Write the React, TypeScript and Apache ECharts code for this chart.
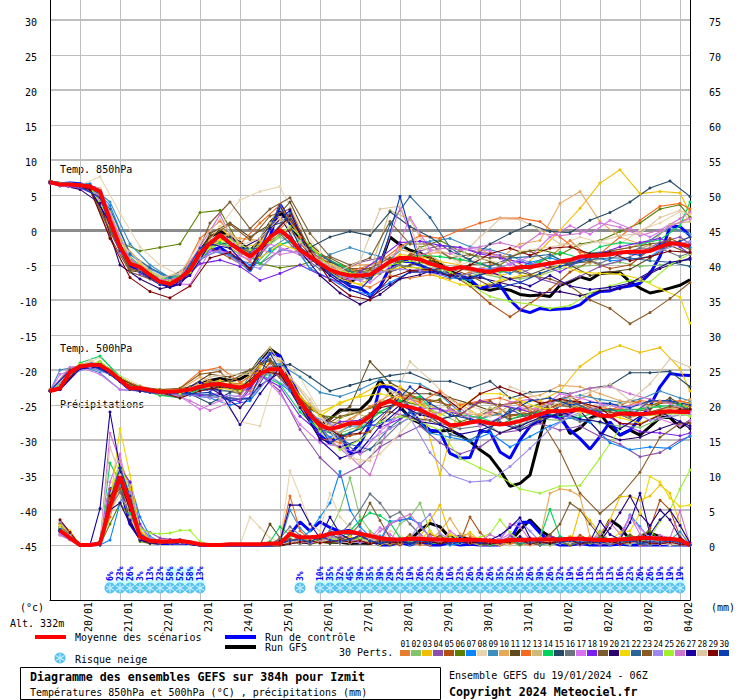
import React, { useEffect, useRef } from "react";
import * as echarts from "echarts";

const tickDates = ["20/01","21/01","22/01","23/01","24/01","25/01","26/01","27/01","28/01","29/01","30/01","31/01","01/02","02/02","03/02","04/02"];
const memberColors = ["#E67E30","#82C46C","#F0C000","#8B4FAB","#B05010","#5B8000","#0A84FF","#E8D5B0","#3A8FBF","#E8A85A","#614B1E","#F56A1F","#CDBB77","#00D45A","#254A66","#6B7580","#D873F0","#7A1FEF","#7A5C2E","#2C006E","#F0D800","#2A6496","#8B5A24","#9C88EE","#A0F030","#CF75D0","#1A009C","#DEC8A4","#800000","#0A3CB4"];
const leftTicks = [30,25,20,15,10,5,0,-5,-10,-15,-20,-25,-30,-35,-40,-45];
const rightTicks = [75,70,65,60,55,50,45,40,35,30,25,20,15,10,5,0];

const snowPercents = [null,null,null,null,null,null,6,23,26,3,13,23,58,52,58,13,null,null,null,null,null,null,null,null,null,3,null,10,35,32,45,39,35,39,29,23,19,26,23,29,16,23,26,29,26,35,32,35,26,39,26,32,19,16,13,13,13,16,23,26,26,19,19,19,null];

// 6-hourly readings, runs
const t850Mean = [6.8,6.5,6.5,6.4,6.2,5.5,1.4,-2.4,-4.8,-5.3,-6.4,-7.4,-7.7,-6.9,-5.7,-3.3,-1.9,-0.7,-1.9,-2.9,-3.8,-2.6,-1,0,-1.2,-2.9,-3.8,-4.8,-5.7,-6.2,-6.5,-6.5,-6.4,-5.5,-4.5,-4,-4,-4.2,-4.8,-5.2,-5.6,-5.3,-5.5,-5.8,-6,-5.6,-5.6,-5.3,-5.3,-5,-4.8,-4.5,-4.3,-3.8,-3.7,-3.6,-3.5,-3.2,-3.1,-3.1,-3,-2.4,-1.9,-2,-2.3];
const t850Control = [6.9,6.6,6.7,6.6,6.2,5.8,1,-2.8,-5.2,-5.6,-5.7,-7.6,-8.1,-7.5,-6,-4,-3,-2.5,-3.5,-4.3,-5.8,-3.5,-1,3.7,1.2,-0.5,-2.9,-4.8,-6,-7,-8,-8.3,-9.3,-8.1,-5.3,-4.5,-4.5,-5,-5.7,-6,-6.4,-6.4,-7.1,-8.3,-8,-7.9,-10,-11.4,-11.8,-11.2,-11.4,-11.3,-11.2,-10.7,-9.5,-8.8,-8.7,-8.2,-8,-7.6,-6.2,-3.8,0.5,0.5,-0.8];
const t850Gfs = [6.9,6.5,6.6,6.4,6.1,5.3,1.1,-2.6,-5,-5.5,-6.3,-7.6,-8,-7,-5.5,-3,-1,-0.2,-1,-1.8,-3,-1.5,1,2.6,1,-1.5,-3,-5,-6,-7,-7.5,-6.5,-7,-5,-1,-2.1,-2.9,-3.3,-4,-4.8,-5.9,-6.4,-7.4,-8.3,-8.6,-8.3,-8.6,-9.2,-9.4,-9.3,-9.5,-7.9,-7.4,-6.7,-7.1,-6.2,-6.1,-6.1,-7.4,-8.3,-9,-8.7,-8.3,-7.9,-7.1];
const t500Mean = [-23,-22.6,-20.3,-19.5,-19.3,-19.3,-20.2,-21.4,-22.6,-22.6,-22.9,-23.1,-23.1,-23,-22.8,-22.4,-22.1,-22,-22.3,-22.5,-22.1,-20.5,-19.9,-19.9,-22,-24.5,-26.4,-27.9,-28.4,-28.1,-27.6,-27.6,-26.6,-25,-24.4,-25,-25.3,-25.7,-26.4,-27,-27.9,-27.8,-27.5,-27.3,-27.6,-27.8,-27.6,-27.3,-26.8,-26.3,-25.9,-25.9,-25.8,-25.6,-26,-26.5,-26.6,-26.2,-26.3,-26.3,-26.2,-26,-25.9,-26,-26];
const t500Control = [-23,-22.5,-20.4,-19.4,-19.1,-19.2,-20.4,-21.6,-22.8,-22.8,-23,-23.3,-23.2,-23.3,-23,-22.6,-22.8,-22.4,-22.5,-22.8,-22.6,-19,-17.6,-18,-21,-24,-27,-29.3,-30.5,-29,-32,-30.5,-27.9,-22.4,-22.4,-23.3,-25.7,-27.4,-28.6,-28.8,-31.9,-32.6,-32.5,-28.8,-28.8,-31.7,-32.6,-30,-28.1,-26.9,-26.4,-26.9,-28.6,-29.8,-31.3,-29.5,-27.4,-29.3,-28.6,-26.9,-25.2,-22.4,-20.5,-20.7,-20.8];
const t500Gfs = [-23,-22.7,-20.2,-19.6,-19.2,-19.2,-20,-21.3,-22.5,-22.7,-23,-23.2,-23.2,-23,-22.6,-22,-21.5,-21.2,-21.5,-21.3,-20.5,-18.5,-17,-18,-21.5,-24.2,-26.5,-27.9,-27,-25.7,-25.7,-25.7,-24.3,-21.4,-23.3,-25.2,-26.9,-27.6,-28.8,-28.7,-28.6,-29.3,-30.2,-31.4,-32.4,-34.3,-36.6,-36.2,-35,-29.5,-24.5,-26.2,-29.1,-28.3,-26.9,-26.2,-28.1,-29.3,-28.6,-29.3,-28.1,-26.8,-26.8,-28.2,-27.3];
const precipMean = [2.1,1,0,0,0.2,5.5,9.8,6,1.2,0.6,0.5,0.5,0.6,0.4,0.1,0,0,0.1,0.1,0.1,0.1,0.2,0.2,1.6,1.1,1.1,1.2,1.6,1.8,1.9,1.6,1.3,1,0.8,0.8,0.9,0.9,0.8,0.8,0.7,0.7,0.8,0.7,0.6,0.5,0.7,0.7,0.8,0.8,0.8,0.8,0.9,0.9,0.8,0.7,0.7,0.8,0.9,1,1,0.9,0.9,0.7,0];
const precipControl = [1.8,1.2,0,0,0.1,8,8.5,3,1,0.4,0.2,0.2,0.3,0.2,0,0,0,0,0,0,0,0,0.1,1.5,3.3,2,3.3,2.5,1.9,2.1,1.6,0.7,0,0,0.4,0,0.5,0,0,0.3,0,0.1,0,0,0,0.7,3.2,3.3,1.7,0.5,0,0,0.2,0,0,0,0.1,0,0,0,0,0,0,0];
const precipGfs = [2.3,1.3,0,0,0.3,5,10.5,7,1.5,0.4,0.3,0.4,0.4,0.2,0,0,0,0,0,0,0,0,0,0.3,0.6,0.3,0.6,0.4,0.4,0.2,0.3,0.2,0.7,0.7,0.4,0.7,2.1,3.1,2.6,1,1.2,0.8,0.5,0.3,0.4,0.5,2.1,3.6,2.1,1.2,0.7,0.3,0.7,0.7,0.9,3.6,2.6,0.7,1.2,1.7,1.2,0.3,0.2,0];

// Members: 33 readings are at the even 6-hour steps, 34 readings at steps 0 and the odd ones plus the last.
const t850m01 = [6.9,6.6,6.0,2.1,-4.2,-6.0,-7.3,-6.1,-1.5,-2.5,-4.5,-1.2,1.5,-3.5,-5.8,-7.4,-8.2,-6.5,-6.9,-6.4,-7,-6,-5,-4.2,-5.5,-3.8,-1.5,-4,-3,-2.5,-1.5,0.5,1.8];
const t850m02 = [6.8,6.5,6.3,5.6,-2,-5.6,-7.6,-7.5,-4,-1.8,-3.5,-3,-1,-2.5,-4.5,-6.5,-7,-6.2,-5,-5.5,-5.8,-7,-6.2,-6.8,-7,-6.5,-5.5,-5.2,-5,-4.6,-5.2,-5,-4.5,-4.2];
const t850m03 = [6.9,6.6,6.2,5.2,-1.5,-4.8,-7.2,-7,-3,0.5,-2.5,-2,3.5,-1,-3.5,-5.8,-6,-5.5,-3.5,-3.8,-4.5,-5,-6,-6.5,-5.8,-3,0,3.1,6.7,8.6,5.2,5.5,5.3,2.4];
const t850m04 = [6.8,6.4,6.1,5.4,-3,-6,-7.8,-7.6,-4.2,-2.8,-4.5,-4.8,-3,-2,-4,-6,-4.6,-4,-4.5,-3,-2.2,-2.5,-3.2,-3.6,-5.5,-7,-7.8,-6.6,-5.2,-4.4,-3.2,-1.8,-1,-2];
const t850m05 = [7,6.6,6.3,0.5,-5.5,-6.5,-8,-5.5,-2.5,-4,-5.6,-1.5,0,-3.6,-5.5,-7.2,-5.8,-6,-3.5,-3.8,-6.2,-8,-10.5,-12.4,-10.5,-8.5,-6,-4.5,-5.5,-5,-2.8,-1.2,-2.5];
const t850m06 = [6.8,6.5,6.2,5.6,-1.8,-3,-2.5,-2,2.5,2.8,-2.3,-4.8,-5.4,-5,-4.2,-5,-6,-5.5,-4.6,-2.5,-1.5,-3,-4,-5,-3.2,-2.8,-3.5,-2,-1.5,-0.2,1,3,3.6,1.8];
const t850m07 = [6.9,6.7,6.6,3.5,-3.5,-5.5,-7,-5.8,-3,-3.4,-5,-3,-1.5,-5.5,-7,-8.6,-9.2,-7.5,-6,-6,-6.8,-7.2,-5.5,-6.2,-4.6,-4,-4.7,-3.8,-4.4,-4.2,-3.8,-2,-2.5];
const t850m08 = [6.9,6.6,6.4,7.6,2.4,-2.4,-5,-6.5,-3.2,0.5,4.3,5.5,6.2,0.5,-3.2,-5.5,-6.2,-5.8,-2.6,-1,-2.8,-5,-4,-4.7,-3,-2.6,-2.2,-1,-1.8,-2,0,1,2.6,1.5];
const t850m09 = [6.9,6.7,6.4,4,-2,-5,-6.8,-5.7,-3,-3.6,-5.8,-2.7,-0.8,-5.6,-3.5,-2.5,-3.4,-4.2,-1.7,-1.6,-1.2,-2.4,-2.8,-3.6,-5,-3.6,-4.8,-3.3,-3,-3.4,-1.5,0.4,-0.6];
const t850m10 = [6.9,6.5,6.2,5.8,-1.5,-4.5,-7,-6,-2.8,-0.6,-1.2,-1.5,1.5,-1.8,-4.3,-5.5,-5,-4.8,-2.8,-3.5,-3.2,-4.5,-2.8,-4,-2,-1.5,3.8,5.5,1.2,-1,-2,-2.5,-1.5,-1];
const t850m11 = [6.8,6.4,5.8,-0.2,-5.8,-6.2,-7.2,-6,-0.5,1,-1,0.8,4,-2,-4.5,-6,-5.5,-6,-5,-4.4,-5.6,-5,-4.6,-5.6,-6.4,-5.3,-5,-6.5,-6,-5.6,-4,-2.2,-3.4];
const t850m12 = [6.9,6.5,6.1,5,-2.8,-5.8,-7.5,-6.8,-1.2,1.3,-2,1,3.6,-1,-3.8,-6.2,-5.5,-4.5,-2.4,-0.8,-1.2,0,1,1.7,1.7,1.2,-1,-3.2,-3.4,-1,1.4,3.4,3.8,3];
const t850m13 = [6.8,6.6,6.2,2.5,-4,-5.8,-7.2,-5.5,-1.5,-0.5,-3.2,1,1.8,-3.5,-5,-6.2,-6,2.8,1.5,-3.5,-5.5,-5.8,-6.4,-5.8,-5.2,-5.6,-4.3,-4.8,-3.4,-3,-2.2,0.8,1.2];
const t850m14 = [6.9,6.6,6.3,5.5,-2.4,-5.2,-7,-6.6,-3.4,-1.8,-2.8,-4.8,-2,-1.5,-3.6,-5,-6.6,-5.2,-4.2,-3.6,-3.8,-4.2,-4.8,-6,-5.5,-4.5,-3.2,-4,-2.4,-1.8,-2,-1.4,0.6,4];
const t850m15 = [6.8,6.5,6.0,1,-4.8,-6.5,-7.6,-6,-2,-1,-3.5,0.5,1.5,-2.5,-1,-0.2,-0.8,2.6,0.5,-1,-3,-4.2,-2,-0.5,0.8,-0.2,-0.4,1.4,2.5,4,6,7,4.8];
const t850m16 = [6.8,6.5,6.2,5.2,-2.8,-5.5,-7.4,-7,-3.8,-1,-3,-3.5,-0.5,-3.5,-5.6,-6.8,-6,-6.2,-5,-5.5,-5.4,-6.5,-6,-5.2,-6.2,-5,-4.4,-4,-4.8,-3.5,-2.6,-2.6,-3.8,-3.2];
const t850m17 = [6.6,6.2,5.9,2.2,-4.4,-6,-7.6,-7.8,-3,-3.2,-4.2,-2,-3,-4.2,-5.5,-7,-7.5,-5.2,1.8,-2.8,-3.4,-2.6,-3,-5,-3.8,-1,0.6,-0.6,1.4,0.2,-1,0.5,1.6];
const t850m18 = [6.7,6.3,6,4.8,-3.2,-6.2,-7.8,-7.4,-4.8,-4.3,-5.2,-7.2,-6.2,-5,-6.4,-7.5,-6,-4,-1.8,-1.6,-2.2,-2.5,-3.4,-4,-4.6,-5,-6,-4.4,-3.4,-2.4,-1.8,-1.2,-2.4,-3.5];
const t850m19 = [6.8,6.5,6,-1,-6,-7,-8,-6,1,4,0.2,3,4.6,-0.5,-3.8,-5,-4,1.2,-2,-2,-4,-3.5,-4,-3.8,-3,-4.6,-4.8,-4.5,-3,-2.5,-2,-1.6,-2.8];
const t850m20 = [6.8,6.4,5.8,3.8,-5,-7,-8.4,-7.8,-3.5,-0.5,-2.8,-1.2,2,-3,-6.5,-9,-10.6,-9.2,-7,-6.4,-5.4,-7,-6.8,-7.5,-8.2,-9,-8.8,-9.4,-8.7,-8.4,-7,-5.5,-4.5,-4];
const t850m21 = [6.9,6.5,6.2,5,-3,-6,-7.6,-7.2,-3.6,-1.4,-2.6,-4,-2,-3,-5,-7,-7.8,-6,-5.4,-5.4,-6.8,-7.8,-8,-7.2,-6.5,-6.4,-5,-6,-6.2,-6.3,-7,-8.4,-9.6,-13.3];
const t850m22 = [6.9,6.6,6.5,3,-3.4,-5.4,-6.8,-5,-2.2,-1.8,-3.2,-1,2.4,-2.8,-4.4,-6,-7,0.8,4.8,1.8,-2.5,-4.4,-5.2,-4,-3.8,-3.5,-5,-4.2,-4,-4,-4.4,-4.6,-5.2];
const t850m23 = [6.8,6.5,6,0,-5.5,-6.5,-7.8,-6.2,-1,0.8,-1.4,2,3,-3,-4,-5.5,-5.5,-4,-6,-5.8,-5.5,-6.5,-8,-7,-6.5,-7,-8,-10,-11.2,-13.4,-11.8,-9.8,-7.5];
const t850m24 = [6.7,6.3,6.1,5,-3.2,-6,-7.6,-7.2,-4,-3,-4.8,-5.5,-2.8,-3.2,-5,-6.5,-7.2,-6,-5.6,-5.8,-6.4,-6.8,-5.5,-5.4,-4.2,-5,-4.6,-4.2,-3.6,-3.4,-3,-3,-2,-1.6];
const t850m25 = [6.9,6.5,6.1,1.5,-4.5,-6,-7.4,-6,-2.5,-1.4,-2.8,-1.8,0.5,-2.2,-5.5,-6.2,-6.5,-5,-4.4,-5,-6,-7.8,-9.5,-10.2,-10.6,-11.2,-10.8,-9,-8,-7.2,-7.4,-5,-3.4];
const t850m26 = [6.8,6.5,6.2,5.6,-2.4,-5.4,-7.2,-6.8,-2.4,2.2,-3.5,-2.8,-3.5,-3,-4.5,-6,-6.8,-5,3.2,-3.6,-2.6,-2.8,-2.4,-1.8,-2.5,-0.5,-0.8,-0.5,1,0.4,-0.8,0,1.6,2.6];
const t850m27 = [6.8,6.4,5.8,1,-5,-6.8,-8.2,-6.5,-2,-2.6,-5.6,0.2,2.8,-4,-6.5,-8.5,-9.6,-7.8,-6,-6,-6.5,-6.8,-6,-7,-8,-6.5,-8,-8.5,-8.2,-7.6,-6,-4.6,-4.2];
const t850m28 = [6.9,6.6,6.4,6,-1.8,-4.6,-6.8,-6.2,-1.8,1.5,-2.2,-1.2,1.8,-1.6,-5,-5.8,-4.5,3,3.4,-2.6,-3,-3.8,-1,1.6,1.5,0,-2,-2.2,-1.6,-0.8,-0.5,1.8,2.8,2.2];
const t850m29 = [6.9,6.5,5.8,-1.2,-6.8,-8.8,-9.7,-8,-4,-3.2,-5.5,-1,2,-3,-7.2,-9.4,-10,-6.8,-5.8,-5.6,-6.6,-5,-3.4,-2.6,-3.6,-2.6,-2.4,-3.4,-3.2,-4.4,-3.8,-3,-3.2];
const t850m30 = [6.8,6.5,6.2,4.6,-3,-6,-7.8,-7.2,-2.6,-0.8,-2.6,-2.6,3.5,-2.4,-5,-7.2,-8.5,-5.5,4.8,-5,-6,-7,-6.5,-8.2,-7.5,-6.2,-5.2,-4.4,-3.4,-3.2,-3.6,-2,-1.6,-1];

const t500m01 = [-23,-19.8,-19.3,-20,-22.4,-22.8,-23,-22.6,-21.5,-22.4,-23,-19.8,-21.5,-26,-28.5,-27,-25.2,-24.6,-23.4,-25.8,-28,-27.4,-26.4,-26.6,-25.8,-24.4,-24.6,-23.6,-26,-26.8,-26,-25.4,-25.6];
const t500m02 = [-23,-22.4,-19.4,-19,-21.2,-22.4,-23.2,-23.2,-22.4,-22,-23,-20.8,-20.6,-25,-28,-29,-28,-26,-24.6,-25,-26.2,-27.6,-27,-29,-27.8,-27,-27.2,-26.4,-27.6,-28,-28.2,-27,-26.4,-26];
const t500m03 = [-23,-22.5,-19.2,-19.2,-21.5,-22.6,-22.8,-22.8,-22,-21.5,-22,-19.5,-18.5,-24,-26,-24.8,-23.6,-22,-22.4,-24.5,-35,-24.8,-26.6,-25,-24.6,-24.4,-23,-19.5,-17.5,-16.5,-17.5,-16.8,-19.8,-23];
const t500m04 = [-23,-22.8,-19.8,-19.4,-21.6,-23,-23.4,-23.6,-23.6,-24,-24.2,-20.6,-23,-28.5,-32.5,-35.2,-33.8,-31,-29.4,-28,-30.4,-32,-31,-29,-28.6,-27.6,-28.6,-28,-29.5,-30.6,-32.4,-31.8,-30,-29.5];
const t500m05 = [-22.8,-20.2,-19.2,-20.4,-22.8,-23.2,-23.2,-22.8,-22,-22,-22,-19,-21.6,-26.2,-29.8,-29.4,-28.8,-25.5,-23.6,-24.4,-25,-24.8,-24.4,-26.6,-26.2,-24.4,-23.8,-25.4,-25.8,-24.4,-25,-24.6,-25.2];
const t500m06 = [-23,-22.6,-19.6,-18.8,-21,-22.6,-23.6,-23.8,-22.6,-22.2,-22.8,-20.8,-19.6,-23.8,-26.5,-26.8,-26,-25,-24.4,-25,-24.2,-27.4,-26.5,-25,-25.8,-24.8,-24.4,-25.4,-26,-25.6,-25.6,-24.6,-24.8,-24.6];
const t500m07 = [-23,-20.6,-19.6,-20.6,-22.8,-23,-23.2,-23.6,-24,-25,-24.4,-20.8,-23,-27.4,-29.6,-28,-28,-27.2,-26,-29,-29.6,-30.2,-29,-31,-29.5,-28,-26.8,-27.5,-30.4,-31.4,-31,-31.2,-29.4];
const t500m08 = [-23,-22.4,-19.5,-18.2,-20.8,-22.2,-23,-22.8,-22,-24,-27.4,-28,-18.4,-21,-26,-31,-33.2,-32,-29,-26,-25.4,-24.8,-25.6,-26.4,-27.2,-26.5,-25,-26,-24.6,-25,-25.6,-26,-26.4,-26.2];
const t500m09 = [-23,-20,-19.4,-20.4,-22.8,-23,-23.4,-23.2,-22.4,-23,-23,-18.4,-19.2,-21,-23.2,-23.8,-22.8,-21.4,-21.6,-22,-23.6,-26,-27,-26.2,-28.4,-25.4,-24.2,-23.6,-24.2,-24.6,-24.2,-23,-24,-24.4];
const t500m10 = [-23,-22.6,-19.4,-19,-21.4,-22.4,-23.4,-22.8,-21,-22.2,-23.4,-20,-19.6,-24.8,-27.6,-29,-26,-24.4,-22.8,-24.8,-25.6,-26.2,-26.4,-26,-24,-23.6,-22.2,-22.4,-23.4,-24.4,-24.8,-24.4,-24.6,-24.2];
const t500m11 = [-23,-20.4,-19.4,-20.2,-22.4,-22.8,-23,-22.4,-20.6,-21,-20,-18.6,-22,-25.6,-27,-25.2,-18.8,-21.8,-23.4,-23.4,-24,-24.8,-25.8,-27,-26.4,-25,-25.2,-25.8,-25.6,-26,-25.6,-24,-25.6];
const t500m12 = [-23,-22.6,-19.6,-19.2,-21.2,-22.8,-23,-22.6,-20.2,-19.6,-21.8,-20,-19.8,-25,-29.8,-30.4,-28,-24.6,-23.8,-24.6,-23,-25,-24.4,-24,-25,-25.8,-25,-24.6,-25.4,-25.6,-24.4,-24.6,-24.4,-24.8];
const t500m13 = [-23,-20.2,-19.2,-20.4,-22.4,-22.8,-23.2,-23,-21.8,-21.6,-20.2,-16.8,-21,-24.8,-28,-26,-26.8,-23,-24,-25,-26.4,-27,-25.4,-26,-25.6,-24.8,-25,-26,-25,-24.6,-25.2,-25.6,-24.8];
const t500m14 = [-23,-22.2,-19,-18,-21,-22.8,-23.6,-24,-22.8,-22.4,-22.4,-20.6,-22,-26,-28.6,-29.4,-28.4,-26,-24.4,-23.8,-27,-26.4,-26.8,-27.8,-26.5,-26,-26.6,-26.8,-25.8,-25.8,-25.6,-25.2,-25,-25.6];
const t500m15 = [-23,-20.4,-19.4,-20.4,-22.6,-22.8,-23.2,-23.4,-24.8,-23.2,-21.6,-19.6,-19.2,-21,-23,-22.2,-21.4,-20.8,-20.4,-21.6,-21.6,-22.6,-21.6,-24,-23.2,-23,-23.4,-22.6,-22.2,-20.4,-20.4,-20.2,-22.4];
const t500m16 = [-23,-22.6,-19.6,-19.4,-21.4,-22.8,-23.2,-23.2,-22.6,-22.8,-23.4,-21,-19.8,-24.2,-28,-30,-32,-30.4,-27.6,-26,-27.6,-28.4,-28,-27.4,-28.4,-27,-26.2,-27.4,-26.6,-26.4,-27.6,-26.6,-25.8,-25.6];
const t500m17 = [-23,-20.6,-19.6,-20.6,-22.8,-23,-23.4,-23.8,-25.6,-24.4,-23.6,-20.6,-23.4,-27.8,-30.4,-31,-32,-28.8,-26.4,-27.4,-26,-25.4,-28,-26.8,-25.4,-25.6,-23.4,-24,-24.8,-25.4,-24.8,-27,-28,-27.2];
const t500m18 = [-23,-22.8,-19.8,-19.6,-21.6,-22.8,-23.4,-23.4,-23.6,-23.4,-24.6,-20.8,-22.4,-26.6,-29,-27.4,-27.2,-28.2,-27,-25.4,-25.6,-26.4,-24.4,-25,-25.6,-26.4,-27,-25.6,-26,-27.6,-28.8,-29,-29.4,-29];
const t500m19 = [-23,-20.2,-19.2,-20,-22.2,-22.8,-23,-22.8,-21.8,-21.6,-20,-18.4,-21.8,-25.4,-27.4,-28,-26.2,-26,-26.8,-27.2,-28.4,-27.4,-27.6,-26.4,-26.2,-25.2,-24.4,-25.6,-26,-26.4,-26,-25.2,-25.6];
const t500m20 = [-23,-22.6,-19.6,-19.4,-21.6,-23,-23.4,-23.2,-21.8,-23.4,-25.4,-22.2,-20.4,-25.4,-29.8,-31,-30,-27.4,-25,-26.4,-27,-26.4,-27.6,-29,-28,-26.8,-26.4,-25.8,-29,-30,-29.6,-28.4,-27.4,-28.4];
const t500m21 = [-23,-22.4,-19.2,-19,-21.4,-22.6,-22.8,-22.8,-22.4,-22.6,-23,-20,-19.8,-23.8,-26.6,-24.6,-23.8,-23.4,-24,-25,-26.4,-25.4,-23.4,-23.4,-24.4,-25.4,-25.8,-26,-26.4,-26.8,-27.6,-26.4,-25.6,-25];
const t500m22 = [-23,-20.2,-19.4,-20.2,-22.6,-23,-23.4,-23.4,-23.6,-24,-24.2,-19.6,-22.8,-26,-28.8,-30.6,-31.4,-28.2,-26,-26.4,-29.2,-30,-28.4,-25.6,-27,-26,-24.4,-25.8,-25.6,-26.6,-24.4,-24.4,-25.8];
const t500m23 = [-23,-22.6,-19.4,-19,-21.2,-22.4,-22.8,-22.6,-20.6,-20.2,-23.4,-19,-21,-24.4,-28.4,-26.6,-26,-24.8,-23.4,-24.2,-24.4,-26.4,-24.6,-25,-24.6,-27,-31.6,-37.6,-40.5,-38,-34.6,-29.6,-27.6,-27.6];
const t500m24 = [-23,-20.6,-19.6,-20.6,-22.8,-23.2,-23.4,-23.6,-24,-23.6,-24,-21,-22.6,-26.4,-27.6,-32.5,-30,-28.4,-26.8,-31.8,-35,-36,-35.8,-33.8,-31.2,-28.4,-26.6,-25.6,-24.8,-25.6,-27.2,-26.6,-26.4];
const t500m25 = [-23,-22.4,-19.4,-18.8,-21,-22.6,-23.4,-23.4,-22.2,-21.8,-22.4,-20.4,-20,-24.4,-28.8,-31.4,-30,-27.4,-26.6,-27.4,-28.6,-32.6,-34,-35.2,-37,-37.6,-36.6,-36.5,-32.6,-28.4,-26.6,-26.4,-26.2,-26.6];
const t500m26 = [-23,-19.6,-19.2,-20.2,-22.6,-22.8,-23.2,-24.4,-25.8,-24.6,-23.4,-19.6,-22.4,-26.4,-30,-32.4,-35,-27.4,-24,-26.4,-25.6,-27,-26,-24.6,-24.2,-24.8,-23.4,-22.6,-22.4,-23.4,-24.2,-24.8,-26];
const t500m27 = [-23,-22.8,-19.8,-19.6,-21.6,-23,-23.2,-23,-21.8,-23,-27.8,-23.4,-19.6,-24.6,-30,-32.6,-31.6,-28,-25.6,-27.4,-27.8,-29.2,-28.6,-27.6,-28.6,-27.4,-26,-27,-27.4,-28.4,-26.6,-26,-27.4,-28];
const t500m28 = [-23,-20.4,-18.6,-20,-22.6,-23,-23,-22.6,-21,-20.6,-20.6,-17.4,-21,-24.2,-28.6,-32.6,-33,-25.4,-18.8,-21.4,-24.2,-26,-26.6,-22.4,-23.4,-25.2,-24,-23.2,-22,-24.4,-22,-18.4,-19.6];
const t500m29 = [-23,-22.6,-19.4,-19.2,-21.2,-22.6,-23.2,-24,-23,-22.4,-22.6,-20.2,-20.6,-24.8,-27.6,-29.4,-29,-25.4,-24.8,-22.4,-23.4,-25.6,-23.4,-22.4,-23.4,-24.8,-24.2,-24.6,-25.4,-27.6,-27.8,-26.4,-25.6,-25.6];
const t500m30 = [-23,-20,-19.2,-20.6,-22.8,-23.2,-23.4,-23.4,-23.2,-24.4,-24,-17.6,-22.6,-26,-30.4,-29,-27.8,-25.4,-22.4,-24.8,-26.4,-27,-27.6,-26,-24.4,-24,-25,-24.6,-24.8,-25.4,-24.4,-24.4,-25];

const p01 = [3,1.4,0,0,0.5,6,11,7,2,0.8,0.5,0.4,0.6,0.3,0,0,0,0,0,0,0,0,0,2,1,0.5,1,0.5,0.3,1,0.8,0.2,0.5,0,1,0.3,0,0,1.2,0.5,1,0.3,0,0,0,0.4,0.2,0,0.6,0,1,0,0.4,1.2,0.8,0,0.5,1,0,0,0.3,0.2,0,0];
const p02 = [2,1,0,0,0,5,10,5,1.5,0.6,0.4,0.6,0.5,0.3,0,0,0,0,0,0,0,0,0.5,1,0.2,0.4,0.8,2,5,9.6,4,2,1,0.5,3,4,6,2,0.5,0,1,0.4,0,0.2,0.5,0,1,0.4,0,0,0.3,0.7,0,0.4,2,0.6,0.3,0,1,0.4,0.6,0,0,0];
const p03 = [3.2,2,0,0,0.2,4,12,8,2,1,0.6,0.4,0.7,0.5,0.1,0,0,0,0,0,0,0,0,0.4,0.8,0.2,0.5,1,0.3,0.8,1.2,0.5,0,0.4,0.3,0.8,1.2,3.5,5.7,1.5,1,1.8,0.6,0.3,0,0.5,1,0.3,0,1.4,0.6,0,5,3.5,1.6,3.6,6.9,7,6.4,7,8.6,7.4,3,0];
const p04 = [1.8,0.8,0,0,0.4,7,9,4,2.4,1.8,1,0.8,0.8,0.5,0.1,0,0,0,0,0,0,0,0,0.6,0.4,0.8,1,1.2,1.8,1.4,2,1,0.4,3,3.6,3.8,3,1,0.3,0.6,0.2,0.7,0.4,0,0.5,1.2,0.8,0.3,0,0.4,1,0.5,0,0.3,0,0.6,0,0.8,1,0.4,0.2,0.4,0,0];
const p05 = [2.6,1.2,0,0,0.2,8,8,3.6,1,0.3,0.3,0.4,0.5,0.2,0,0,0,0,0,0,0,0,0.2,0.5,1,0.4,0.8,0.6,1.2,1,0.7,0.4,0.8,0.3,0,0.7,0.2,1.5,1,0.6,0.4,4,1.8,0.4,0,0.2,0.8,0.3,0,0.6,0.9,0.2,1.4,0.7,0.3,0,0.5,1.3,0.6,2.4,6.4,5,1.2,0];
const p06 = [2,1,0,0,0,3,6,4,0.5,0.2,0.2,0.3,0.3,0.2,0,0,0,0,0,0,0,0,0,0.3,0.4,0.1,0.4,0.2,0.6,0.3,0.8,0.2,0.4,0,0.5,0.2,0.3,0.8,0.2,1.3,0.4,0.7,0.2,0,0.3,0.4,0,0.6,0.2,0.8,0.3,0,0.4,0.2,1.2,0.8,0.3,0.6,1.4,2,0.7,0.5,0.2,0];
const p07 = [1.5,0.8,0,0,0,0.7,6,9,4,1.2,0.5,0.4,0.5,0.2,0,0,0,0,0,0,0,0,0,0.2,0.8,2,4,6,10.5,5,2.6,1.2,0.6,3.4,3.5,3.8,3,1,0.5,0,0.2,0.6,0.3,0,0.7,0.4,1,0.6,0.3,0.5,1.2,0.3,0.8,0.2,0.5,0,1,4.3,2.6,0.8,0.3,0.5,0.2,0];
const p08 = [2.4,1.4,0,0,0.4,5,7,5,1,0.4,0.3,0.3,0.4,0.2,0,0,0,0,0,4,2.5,1,0.4,10.6,7,3,2,7.4,4,2.5,1.5,0.8,0.5,2,1.5,0.3,1,0.8,0.6,1.8,0.4,0.7,0.2,0.5,0.3,0,0.5,0.8,1,0.6,0.2,0.5,0.4,0.8,0.2,0.6,0.4,0.2,0.8,0.3,0.1,0,0.2,0];
const p09 = [2,1,0,0,0.2,6,8.5,6,1.4,0.6,0.4,0.5,0.4,0.2,0,0,0,0,0,0,0,0,0.3,5,2.4,1,1.4,1,2,1.6,1.4,0.6,1.3,0.5,0.7,0,0.4,0.8,0.3,0.5,1.2,0.5,0.3,0,0.6,0.4,0.2,0.7,0,0.3,1,0.4,0.2,0.6,0.2,0.4,0.8,1.2,0.3,0,0.5,0.7,1.9,0];
const p10 = [2.8,1.6,0,0,0.1,6.5,12,8.5,2,0.8,0.6,0.4,0.5,0.3,0,0,0,0,0,0,0,0,0,0.6,1.2,0.6,0.3,0.8,1,0.5,0.6,0.4,1,0.5,0.3,0.7,1,0.5,2,3.8,1.6,1.4,0.6,0.2,0,0.4,1,0.7,1,7.4,8,7.8,7,1.2,0.8,0.3,0.5,1.5,0.7,0.3,1,0.8,0.3,0];
const p11 = [2.2,1,0,0,0.3,7,10,5,1,0.4,0.4,0.4,0.4,0.3,0,0,0,0,0,0,0,3,1,0.8,0.2,0.3,0.5,1,0.6,0.8,0.4,0.3,0.7,0.8,0.4,1,0.2,0.6,1.4,0.3,0.5,0.8,0.2,0,0.4,0.6,0.2,0.5,1,0.3,0.4,0.2,0.7,0.3,0.6,0.4,0.8,0.2,1.2,0.3,0.5,0.2,0.4,0];
const p12 = [3,1.2,0,0,0.2,4,9,6.6,1.8,0.8,0.5,0.6,0.6,0.2,0,0,0,0,0,0,0,0,0.5,7,2,0.8,1.5,1,1.4,1,0.7,1.6,0.6,0.8,0.3,0.5,0.6,1.2,0.4,1,0.7,1.1,0.3,0.4,0.8,0.2,0.4,0.6,0.3,0.9,0.5,1.2,0.6,1,0.4,0.8,0.3,0.6,0.8,0.3,0.5,0.3,0.5,0];
const p13 = [2.4,1.2,0,0,0,4.4,8,7,1.6,0.6,0.4,0.3,0.4,0.3,0,0,0,0,0,0,0,0,0,0.3,0.8,0.3,0.6,0.8,0.4,0.6,1.2,1,0.3,0.5,0.8,0.3,0.6,0.4,1,0.5,0.2,0.7,0.4,0.3,0.6,1,0.4,0.2,0.3,0.6,0.5,0.2,0.8,0.5,0.3,0.5,1.1,0.4,0.3,0.6,0.3,0.4,0.2,0];
const p14 = [2.2,1,0,0,0.5,11.7,9,4.5,1.4,0.5,0.3,0.4,0.5,0.2,0,0,0,0,0,0,0,0.5,2.6,1.4,1,0.5,0.8,0.6,1,2,3.5,4.6,4.2,3.2,1,0.5,0.8,0.3,0.2,0.6,0.2,0.9,0.5,0,0.3,0.8,0.2,0.4,1,5.1,1.2,0.8,0.6,0.4,1,0.3,0.7,1.4,0.6,0.5,0.8,0.3,0.2,0];
const p15 = [2.6,1.3,0,0,0.1,6,10,7,1.5,0.7,0.4,0.5,0.3,0.2,0,0,0,0,0,0,0,0,0,0.5,0.2,0.6,0.4,0.8,0.3,0.5,0.4,0.6,0.2,0.3,0.5,0.2,0.4,0.6,0.3,0.2,0.7,0.4,0.6,0.2,0.3,0.5,0.8,0.3,0.5,0.2,0.4,0.3,0.6,0.2,0.4,0.7,0.3,0.5,0.2,0.4,0.3,0.2,0.4,0];
const p16 = [3,1.4,0,0,0.2,5.5,7.5,4,1.2,0.5,0.3,0.5,0.4,0.2,0,0,0,0,0,0,0,0,1,2.6,1.4,0.6,0.7,2,1.6,3,5,7.3,6,4,4.7,3,1.5,0.7,0.5,0.9,0.3,0.4,0.6,0.2,0.5,0.3,0.7,0.2,0.4,0.6,1,0.5,0.3,0.7,0.4,0.2,0.3,0.5,0.8,0.2,0.4,0.3,0.2,0];
const p17 = [1.6,0.9,0,0,0.3,9,13,6,1.6,0.6,0.5,0.4,0.3,0.2,0,0,0,0,0,0,0,0,0,0.8,0.5,0.3,1,0.7,1.4,0.5,0.4,0.9,2.5,1.5,0.5,0.8,1.4,0.6,0.4,2,1,0.3,0.5,0.2,0.8,1.6,0.5,0.3,0.7,1,0.4,1.2,0.3,0.6,1.5,3.2,1.6,4,2.4,1,0.5,0.2,0.4,0];
const p18 = [2,1,0,0,0.2,7,11,9,3,0.9,0.7,0.6,0.6,0.3,0,0,0,0,0,0,0,0,0,0.4,0.7,0.2,1.2,0.8,0.6,1,0.5,0.4,0.8,0.3,0.6,1,0.4,0.7,0.5,0.3,0.8,0.5,0.2,0.6,0.4,0.7,0.5,0.2,0.9,1.4,0.5,0.7,0.3,0.5,0.4,0.6,0.3,0.7,0.4,0.5,0.8,0.2,0.3,0];
const p19 = [2.4,1.2,0,0,0.1,6,9,6,1,0.4,0.3,0.3,0.5,0.2,0,0,0,0,0,0,0,0,0.8,0.4,0.5,0.3,1,0.6,0.8,1.4,3,6,3.5,1,0.8,0.4,0.6,1,0.3,0.7,0.5,0.2,0.4,0.6,0.3,0.5,0.8,0.2,0.5,1.5,3,6,5,3,1.2,0.8,0.4,1.4,0.9,0.5,0.3,0.6,0.2,0];
const p20 = [2,0.8,0,0,0.4,5,6,3,0.7,0.3,0.2,0.3,0.3,0.2,0,0,0,0,0,0,0,0,0.3,0.6,0.4,0.2,0.6,0.3,1,0.5,0.7,0.3,0.2,0.5,0.8,0.3,0.4,0.6,0.2,0.5,0.4,0.7,0.3,0.2,0.5,0.6,1.2,0.4,0.3,0.7,0.5,0.8,0.2,0.6,0.5,2.4,4.6,7,4.4,2.8,5,3.6,1,0];
const p21 = [2.8,1.8,0,0,0.3,6,16.6,10,2,1,0.6,0.5,0.7,0.3,0,0,0,0,0,0,0,0,0,0.4,0.8,0.3,0.6,1,0.5,1.2,0.6,0.4,1,0.7,0.3,1.4,0.8,2,0.6,1.5,1,0.5,0.7,0.4,0.6,0.3,0.8,0.5,1,0.4,0.7,1.2,0.5,0.8,0.3,0.6,1.8,2,4.5,9.8,9,6.7,5.5,5.7];
const p22 = [2.4,1.2,0,0,0.2,6,9,6.5,1.3,0.6,0.4,0.4,0.4,0.2,0,0,0,0,0,0,0,0,0,0.6,1,0.5,0.8,1.6,0.9,0.7,1,0.5,0.3,0.7,0.4,0.5,0.8,0.2,0.6,0.4,0.3,0.6,0.5,0.2,0.4,0.8,0.3,0.5,0.7,0.4,0.6,0.3,0.5,0.2,0.7,0.4,0.6,0.3,0.5,0.8,0.2,0.4,0.3,0];
const p23 = [2.2,1.1,0,0,0.1,6.6,8,5.5,1.2,0.5,0.3,0.4,0.5,0.3,0,0,0,0,0,0,0,0,0.4,0.8,0.5,0.3,0.7,0.4,0.9,0.6,1.2,0.5,0.8,0.3,0.5,1.5,0.4,0.8,1.2,0.6,0.3,0.5,0.2,0.7,0.3,0.5,0.6,0.4,0.3,0.8,0.5,1,0.3,0.6,0.8,0.3,0.4,1,0.5,0.3,0.7,0.4,0.2,0];
const p24 = [3.4,1.6,0,0,0.2,5,10,7.5,2.6,1,0.5,0.3,0.5,0.2,0,0,0,0,0,0,0,0,0,0.5,0.3,0.8,0.4,1.2,0.7,0.5,0.3,0.8,0.4,0.3,0.6,1,3,4.4,1.6,0.8,0.3,0.4,0.7,0.2,0.8,2.6,3.4,2,0.5,0.8,0.4,0.6,0.3,0.5,0.7,0.3,0.5,0.2,0.6,0.4,0.3,0.5,0.2,0];
const p25 = [2.6,1.2,0,0,0.3,7,12,7,2.4,1.7,1.6,1.7,2.1,2.1,0.5,0,0,0,0,0,0,0,0,0.3,0.6,0.8,0.4,1,0.7,0.5,1,0.4,0.5,0.3,0.8,0.5,0.6,0.4,1,0.7,0.3,0.6,1.1,1.6,3.6,1.8,0.6,0.4,0.3,0.5,0.8,0.4,0.6,0.3,0.5,0.7,0.4,0.3,0.5,1,3.4,5,8,10.7];
const p26 = [1.4,0.7,0,0,0.2,16,12,5,1.2,0.5,0.4,0.3,0.4,0.2,0,0,0,0,0,0,0,0,0.2,0.4,0.7,0.3,0.5,0.9,0.4,0.7,0.5,0.3,2,3,3.8,4.4,2.6,1.2,0.8,0.4,0.6,0.3,0.5,1.5,0.8,3,2.6,0.7,0.5,0.8,0.3,0.6,0.4,0.7,0.3,0.5,0.6,4.2,1.5,0.7,1.4,1,4.9,0];
const p27 = [2,1,0,0,5.2,19,11,3.5,0.8,0.4,0.3,0.3,0.4,0.2,0,0,0,0,0,0,0,0,0.5,5.7,5.7,3,1,4,1.6,0.8,1.4,0.6,0.4,0.3,0.6,0.2,0.8,0.3,0.6,0.4,1,0.5,0.3,0.7,1.4,2.5,3.9,1,0.4,0.3,0.5,0.8,0.3,0.5,3.4,1.5,0.8,3.2,7.4,1.5,3.6,5,2.8,0.3];
const p28 = [2.4,1.2,0,0,0.1,14,10,4,1,0.5,0.3,0.4,0.4,0.2,0,0,0,0,0,0,0,0,0,0.5,0.3,0.7,0.4,0.8,0.5,0.3,0.6,0.8,0.4,0.2,0.5,0.7,0.3,0.6,0.4,1,0.3,0.5,0.8,0.4,0.2,0.6,0.5,0.3,0.7,0.4,0.5,0.3,0.6,0.4,0.2,0.5,0.7,0.3,0.4,0.6,0.5,0.2,0.3,0];
const p29 = [3.6,1.8,0,0,0.2,7,9,5,1.4,0.6,0.4,0.5,0.7,0.3,0,0,0,0,0,0,0,0,0,0.2,0.4,0.6,0.3,0.5,0.7,0.4,0.6,0.2,0.5,0.3,0.4,0.8,0.3,0.5,0.2,0.6,0.4,0.3,0.5,0.2,0.3,0.4,0.6,0.2,0.4,0.3,0.5,0.6,0.2,0.4,0.3,0.5,0.2,0.4,0.6,0.3,0.2,0.4,0.1,0];
const p30 = [2.2,1,0,0,0,5,11,7,1.6,0.6,0.5,0.4,0.5,0.2,0,0,0,0,0,0,0,0,0.2,0.6,0.8,0.4,1.2,0.7,0.5,0.8,1.4,0.6,0.3,0.5,0.7,0.3,0.6,0.4,0.8,0.5,0.3,0.6,0.4,0.5,0.3,0.7,0.6,0.4,0.5,0.8,0.3,0.6,0.4,0.5,0.3,0.7,0.4,0.6,0.3,0.5,0.4,0.6,0.3,0];

const t850Members = [t850m01,t850m02,t850m03,t850m04,t850m05,t850m06,t850m07,t850m08,t850m09,t850m10,t850m11,t850m12,t850m13,t850m14,t850m15,t850m16,t850m17,t850m18,t850m19,t850m20,t850m21,t850m22,t850m23,t850m24,t850m25,t850m26,t850m27,t850m28,t850m29,t850m30];
const t500Members = [t500m01,t500m02,t500m03,t500m04,t500m05,t500m06,t500m07,t500m08,t500m09,t500m10,t500m11,t500m12,t500m13,t500m14,t500m15,t500m16,t500m17,t500m18,t500m19,t500m20,t500m21,t500m22,t500m23,t500m24,t500m25,t500m26,t500m27,t500m28,t500m29,t500m30];
const precipMembers = [p01,p02,p03,p04,p05,p06,p07,p08,p09,p10,p11,p12,p13,p14,p15,p16,p17,p18,p19,p20,p21,p22,p23,p24,p25,p26,p27,p28,p29,p30];

const MONO = '"DejaVu Sans Mono", monospace';
const GRID = "#BEBEBE";
const categories = Array.from({ length: 65 }, (_, i) => "h" + i * 6);
const isDayTick = (i: number) => (i - 3) % 4 === 0;

function stepIndex(row: number[], k: number) {
  if (row.length <= 33) return k * 2;
  if (k === 0) return 0;
  if (k === row.length - 1) return 64;
  return k * 2 - 1;
}
const memberPoints = (row: number[]) => row.map((v, k) => [stepIndex(row, k), v]);
const precipPoints = (row: number[]) => row.map((v, k) => [k + 1, v]);

function flake(cx: number, cy: number, r: number, z = 0) {
  const arm = r * 0.82;
  const c = Math.cos(Math.PI / 3) * arm;
  const s = Math.sin(Math.PI / 3) * arm;
  const segs = [[0, -arm, 0, arm], [-s, -c, s, c], [-s, c, s, -c]];
  return [
    { type: "circle", shape: { cx, cy, r }, style: { fill: "#55C3EE" }, z2: z },
    ...segs.map((g) => ({
      type: "line",
      shape: { x1: cx + g[0], y1: cy + g[1], x2: cx + g[2], y2: cy + g[3] },
      style: { stroke: "#C8EEFB", lineWidth: 1.2 },
      z2: z + 1,
    })),
  ];
}

function label(text: string, x: number, y: number, size = 10, weight = "normal", extra: any = {}) {
  return {
    type: "text", x, y,
    style: { text, font: `${weight} ${size}px ${MONO}`, fill: "#000", textVerticalAlign: "middle", textAlign: "left", ...extra },
  };
}

function memberSeries(rows: number[][], axis: number, toPoints: (r: number[]) => number[][]) {
  return rows.map((row, m) => ({
    type: "line", yAxisIndex: axis, data: toPoints(row),
    symbol: "circle", symbolSize: 3, showSymbol: true, showAllSymbol: true,
    lineStyle: { width: 1.1, color: memberColors[m] }, itemStyle: { color: memberColors[m] },
    silent: true, z: 3,
  }));
}
function runSeries(values: (number | null)[], axis: number, color: string, width: number, z: number) {
  return {
    type: "line", yAxisIndex: axis, data: values, symbol: "none", showSymbol: false,
    lineStyle: { width, color }, silent: true, z,
  };
}
const withLead = (v: number[]) => [null, ...v];

export default function App() {
  const ref = useRef<HTMLDivElement>(null);
  useEffect(() => {
    if (!ref.current) return;
    const chart = echarts.init(ref.current, undefined, { renderer: "svg" });
    const gridLines = leftTicks.map((v) => ({
      yAxis: v,
      lineStyle: v === 0
        ? { color: "#8C8C8C", width: 3, type: "solid" as const }
        : { color: GRID, width: v % 10 === 0 ? 2 : 1, type: "solid" as const },
    }));
    const option: any = {
      animation: false,
      backgroundColor: "#fff",
      grid: { left: 50, top: 0, width: 640, height: 600, containLabel: false },
      xAxis: {
        type: "category", data: categories, boundaryGap: false,
        axisLine: { onZero: false, lineStyle: { color: "#000", width: 1 } },
        axisTick: { show: false },
        splitLine: { show: true, interval: (i: number) => isDayTick(i), lineStyle: { color: GRID, width: 1 } },
        axisLabel: {
          interval: (i: number) => isDayTick(i), rotate: 90, margin: 2, verticalAlign: "top", lineHeight: 16,
          color: "#000", fontFamily: MONO, fontSize: 10,
          formatter: (_: string, i: number) => tickDates[(i - 3) / 4] ?? "",
        },
      },
      yAxis: [
        {
          type: "value", position: "left", min: -52.857142857, max: 32.857142857,
          axisLine: { show: true, onZero: false, lineStyle: { color: "#000", width: 1 } },
          axisTick: { show: false }, splitLine: { show: false },
          axisLabel: { customValues: leftTicks, margin: 13, verticalAlign: "top", lineHeight: 4, color: "#000", fontFamily: MONO, fontSize: 10 },
        },
        {
          type: "value", position: "right", min: -7.857142857, max: 77.857142857,
          axisLine: { show: true, onZero: false, lineStyle: { color: "#000", width: 1 } },
          axisTick: { show: false }, splitLine: { show: false },
          axisLabel: { customValues: rightTicks, margin: 19, verticalAlign: "top", lineHeight: 4, color: "#000", fontFamily: MONO, fontSize: 10 },
        },
      ],
      series: [
        {
          type: "line", data: [], yAxisIndex: 0, silent: true, z: 0,
          markLine: { silent: true, symbol: "none", z: 0, label: { show: false }, animation: false, data: gridLines },
        },
        {
          type: "custom", yAxisIndex: 0, z: 1, silent: true, clip: false,
          data: snowPercents.map((p, i) => (p === null ? null : [i, p])).filter(Boolean),
          encode: { x: 0, y: 1 },
          renderItem: (_: any, api: any) => {
            const idx = api.value(0);
            const pct = api.value(1);
            const base = api.coord([idx, -50.43]);
            const flakeAt = api.coord([idx, -51.14]);
            const textAt = api.coord([idx, -50.14]);
            const h = pct * 0.28;
            return {
              type: "group",
              children: [
                { type: "rect", shape: { x: base[0] - 5, y: base[1] - h, width: 10, height: h + 1 }, style: { fill: "#CCFFFF" }, z2: 0 },
                ...flake(flakeAt[0], flakeAt[1], 5.5, 1),
                {
                  type: "text", x: textAt[0], y: textAt[1], rotation: Math.PI / 2, z2: 5,
                  style: { text: pct + "%", fill: "#0000FF", font: `bold 8px ${MONO}`, align: "left", verticalAlign: "middle" },
                },
              ],
            };
          },
        },
        runSeries(t850Gfs, 0, "#000", 3, 2),
        runSeries(t500Gfs, 0, "#000", 3, 2),
        runSeries(withLead(precipGfs), 1, "#000", 3, 2),
        runSeries(t850Control, 0, "#0000FF", 3, 2),
        runSeries(t500Control, 0, "#0000FF", 3, 2),
        runSeries(withLead(precipControl), 1, "#0000FF", 3, 2),
        ...memberSeries(t850Members, 0, memberPoints),
        ...memberSeries(t500Members, 0, memberPoints),
        ...memberSeries(precipMembers, 1, precipPoints),
        runSeries(t850Mean, 0, "#FF0000", 4, 6),
        runSeries(t500Mean, 0, "#FF0000", 4, 6),
        runSeries(withLead(precipMean), 1, "#FF0000", 4, 6),
      ],
      graphic: [
        { type: "group", silent: true, children: [
          label("Temp. 850hPa", 60, 169),
          label("Temp. 500hPa", 60, 348),
          label("Précipitations", 60, 404),
          label("(°c)", 20, 607),
          label("Alt. 332m", 10, 623),
          label("(mm)", 711, 607),
          { type: "rect", shape: { x: 35, y: 635, width: 31, height: 4 }, style: { fill: "#FF0000" } },
          label("Moyenne des scénarios", 75, 637),
          { type: "rect", shape: { x: 225, y: 635, width: 31, height: 4 }, style: { fill: "#0000FF" } },
          label("Run de contrôle", 265, 637),
          { type: "rect", shape: { x: 225, y: 645, width: 31, height: 4 }, style: { fill: "#000" } },
          label("Run GFS", 265, 647),
          label("30 Perts.", 339, 652),
          ...flake(60, 658, 5.5),
          label("Risque neige", 75, 659),
          { type: "rect", shape: { x: 20.5, y: 667.5, width: 420, height: 32 }, style: { fill: "#fff", stroke: "#000", lineWidth: 1 } },
          label("Diagramme des ensembles GEFS sur 384h pour Izmit", 30, 677, 11.6, "bold"),
          label("Températures 850hPa et 500hPa (°C) , précipitations (mm)", 30, 692),
          label("Ensemble GEFS du 19/01/2024 - 06Z", 449, 675),
          label("Copyright 2024 Meteociel.fr", 449, 692, 11.6, "bold"),
          ...memberColors.flatMap((c, i) => [
            { type: "rect", shape: { x: 400 + i * 11, y: 650, width: 10, height: 6 }, style: { fill: c } },
            label(String(i + 1).padStart(2, "0"), 400.5 + i * 11, 644, 8),
          ]),
        ] },
      ],
    };
    chart.setOption(option);
    return () => chart.dispose();
  }, []);
  return <div ref={ref} style={{ position: "absolute", left: 0, top: 0, width: 740, height: 700 }} />;
}
